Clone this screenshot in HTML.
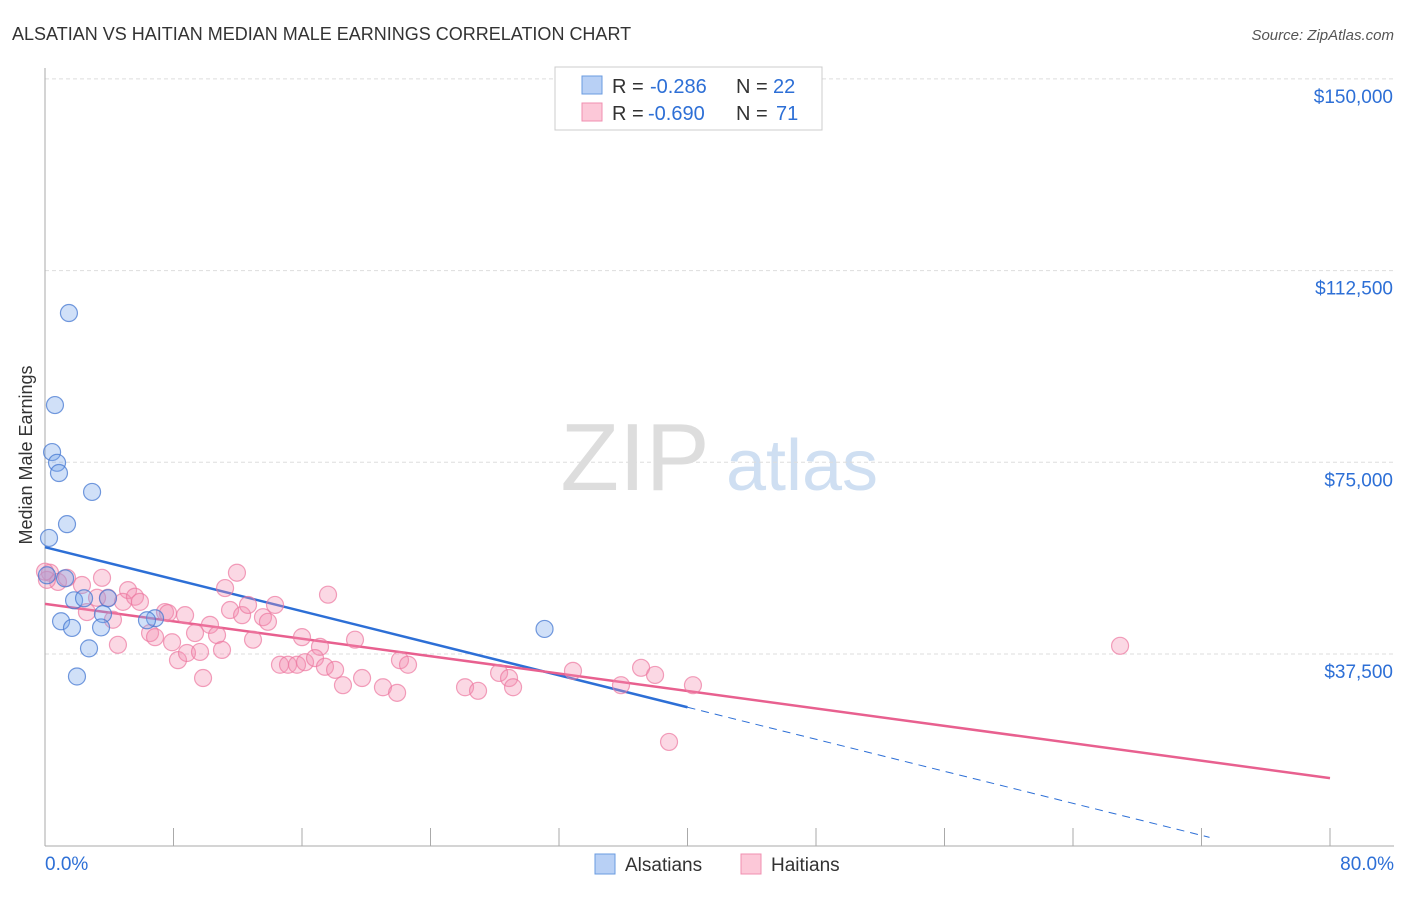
<!DOCTYPE html>
<html><head><meta charset="utf-8"><style>
body{margin:0;background:#fff;font-family:"Liberation Sans",sans-serif}
svg text{font-family:"Liberation Sans",sans-serif}
</style></head><body>
<svg id="c" width="1406" height="892">
<text x="12" y="40" font-size="18" fill="#333">ALSATIAN VS HAITIAN MEDIAN MALE EARNINGS CORRELATION CHART</text>
<text x="1394" y="40" font-size="15" fill="#555" font-style="italic" text-anchor="end">Source: ZipAtlas.com</text>
<text x="32" y="455" font-size="18" fill="#333" text-anchor="middle" transform="rotate(-90 32 455)">Median Male Earnings</text>
<g>
<text x="635" y="490" font-size="96" fill="#ddd" font-family="Liberation Serif" text-anchor="middle">ZIP</text>
<text x="802" y="490" font-size="72" fill="#cfdff2" text-anchor="middle">atlas</text></g>
<g id="grid"></g><g id="axes"></g><g id="lines"></g><g id="pts"></g>
<g>
<rect x="555" y="67" width="267" height="63" fill="#fff" stroke="#ccc"/>
<rect x="582" y="76" width="20" height="18" fill="#b8d0f5" stroke="#6a9be0"/>
<rect x="582" y="103" width="20" height="18" fill="#fcc8d8" stroke="#f08fb0"/>
<text x="612" y="93" font-size="20" fill="#333">R =</text>
<text x="650" y="93" font-size="20" fill="#2d6fd6">-0.286</text>
<text x="736" y="93" font-size="20" fill="#333">N =</text>
<text x="773" y="93" font-size="20" fill="#2d6fd6">22</text>
<text x="612" y="120" font-size="20" fill="#333">R =</text>
<text x="648" y="120" font-size="20" fill="#2d6fd6">-0.690</text>
<text x="736" y="120" font-size="20" fill="#333">N =</text>
<text x="776" y="120" font-size="20" fill="#2d6fd6">71</text>
</g>
<g>
<rect x="595" y="854" width="20" height="20" fill="#b8d0f5" stroke="#6a9be0"/>
<text x="625" y="871" font-size="19" fill="#333">Alsatians</text>
<rect x="741" y="854" width="20" height="20" fill="#fcc8d8" stroke="#f08fb0"/>
<text x="771" y="871" font-size="19" fill="#333">Haitians</text>
</g>
</svg>
<script>
const yTicks=[37500,75000,112500,150000];
const yTickLabels=["$37,500","$75,000","$112,500","$150,000"];
const xTickLabels=["0.0%","80.0%"];
const blueX=[1.49,0.62,0.44,0.75,0.87,2.93,1.37,0.25,0.12,1.25,1.81,2.43,3.92,3.61,6.85,6.35,1.0,1.68,3.49,2.74,1.99,31.1];
const blueY=[104.2,86.2,77.0,74.9,72.9,69.2,62.9,60.2,52.9,52.3,48.0,48.4,48.4,45.3,44.5,44.1,43.9,42.6,42.7,38.6,33.1,42.4];
const pinkX=[0.31,0.81,1.37,2.30,3.55,3.92,2.61,3.24,4.23,4.54,5.17,4.86,5.60,5.91,6.54,6.85,7.47,7.66,7.91,8.28,8.72,8.84,9.34,9.65,9.84,10.27,10.71,11.02,11.21,11.95,11.52,12.27,12.64,13.57,13.88,14.32,12.95,17.62,16.00,17.12,19.30,14.63,15.13,15.69,16.19,16.81,17.43,18.06,18.55,19.74,21.04,21.92,22.10,22.60,26.15,26.96,28.27,28.89,29.14,32.87,35.86,37.11,37.98,40.34,38.85,66.93,0.12,0.0];
const pinkY=[53.4,51.6,52.4,51.0,52.4,48.5,45.7,48.5,44.2,39.3,50.0,47.7,48.7,47.7,41.6,40.8,45.7,45.5,39.8,36.3,45.1,37.7,41.6,37.9,32.8,43.2,41.2,38.3,50.4,53.4,46.1,45.1,47.1,44.7,43.8,47.1,40.3,49.1,40.8,38.9,40.3,35.4,35.4,35.4,35.9,36.7,35.0,34.4,31.4,32.8,31.0,29.9,36.3,35.4,31.0,30.3,33.8,32.8,31.0,34.2,31.4,34.8,33.4,31.4,20.3,39.1,52.0,53.6];
const blueLine=[58.4,-0.783];
const pinkLine=[47.3,-0.426];
const X=v=>45+v*1285/80, Y=v=>845.7-v*1000*191.7/37500;
const ns='http://www.w3.org/2000/svg';
function mk(p,t,a){const e=document.createElementNS(ns,t);for(const k in a)e.setAttribute(k,a[k]);p.appendChild(e);return e;}
const grid=document.getElementById('grid'),axes=document.getElementById('axes'),lines=document.getElementById('lines'),pts=document.getElementById('pts');
yTicks.forEach((t,i)=>{const y=Y(t/1000);
const g=mk(grid,'line',{x1:45,x2:1394,y1:y,y2:y,stroke:'#ddd','stroke-dasharray':'4,3'});


const tx=mk(axes,'text',{x:1393,y:y+24,'font-size':19,fill:'#2d6fd6','text-anchor':'end'});tx.textContent=yTickLabels[i];

});
const ax=mk(axes,'line',{x1:45,x2:45,y1:68,y2:846,stroke:'#aaa'});


const bx=mk(axes,'line',{x1:45,x2:1394,y1:846,y2:846,stroke:'#aaa'});


for(let i=1;i<=10;i++){const tk=mk(axes,'line',{x1:X(i*8),x2:X(i*8),y1:828,y2:846,stroke:'#aaa'});

}
[[0,'start',45],[80,'end',1394]].forEach((d,i)=>{const t=mk(axes,'text',{x:d[2],y:870,'font-size':19,fill:'#2d6fd6','text-anchor':d[1]});t.textContent=xTickLabels[i];

});
function dot(x,y,f,s,n){const c=mk(pts,'circle',{cx:X(x),cy:Y(y),r:8.5,fill:f,stroke:s,'stroke-width':1.2});

}
pinkX.forEach((x,i)=>dot(x,pinkY[i],'rgba(244,143,177,0.35)','rgba(236,120,160,0.7)','haitian-point'));
blueX.forEach((x,i)=>dot(x,blueY[i],'rgba(120,165,235,0.35)','rgba(70,120,210,0.75)','alsatian-point'));
const f=(l,x)=>l[0]+l[1]*x;
let l=mk(lines,'line',{x1:X(0),y1:Y(f(blueLine,0)),x2:X(40),y2:Y(f(blueLine,40)),stroke:'#2d6fd6','stroke-width':2.5});


l=mk(lines,'line',{x1:X(40),y1:Y(f(blueLine,40)),x2:X(72.5),y2:Y(f(blueLine,72.5)),stroke:'#2d6fd6','stroke-width':1,'stroke-dasharray':'8,6'});


l=mk(lines,'line',{x1:X(0),y1:Y(f(pinkLine,0)),x2:X(80),y2:Y(f(pinkLine,80)),stroke:'#e8608f','stroke-width':2.5});


</script>
</body></html>
